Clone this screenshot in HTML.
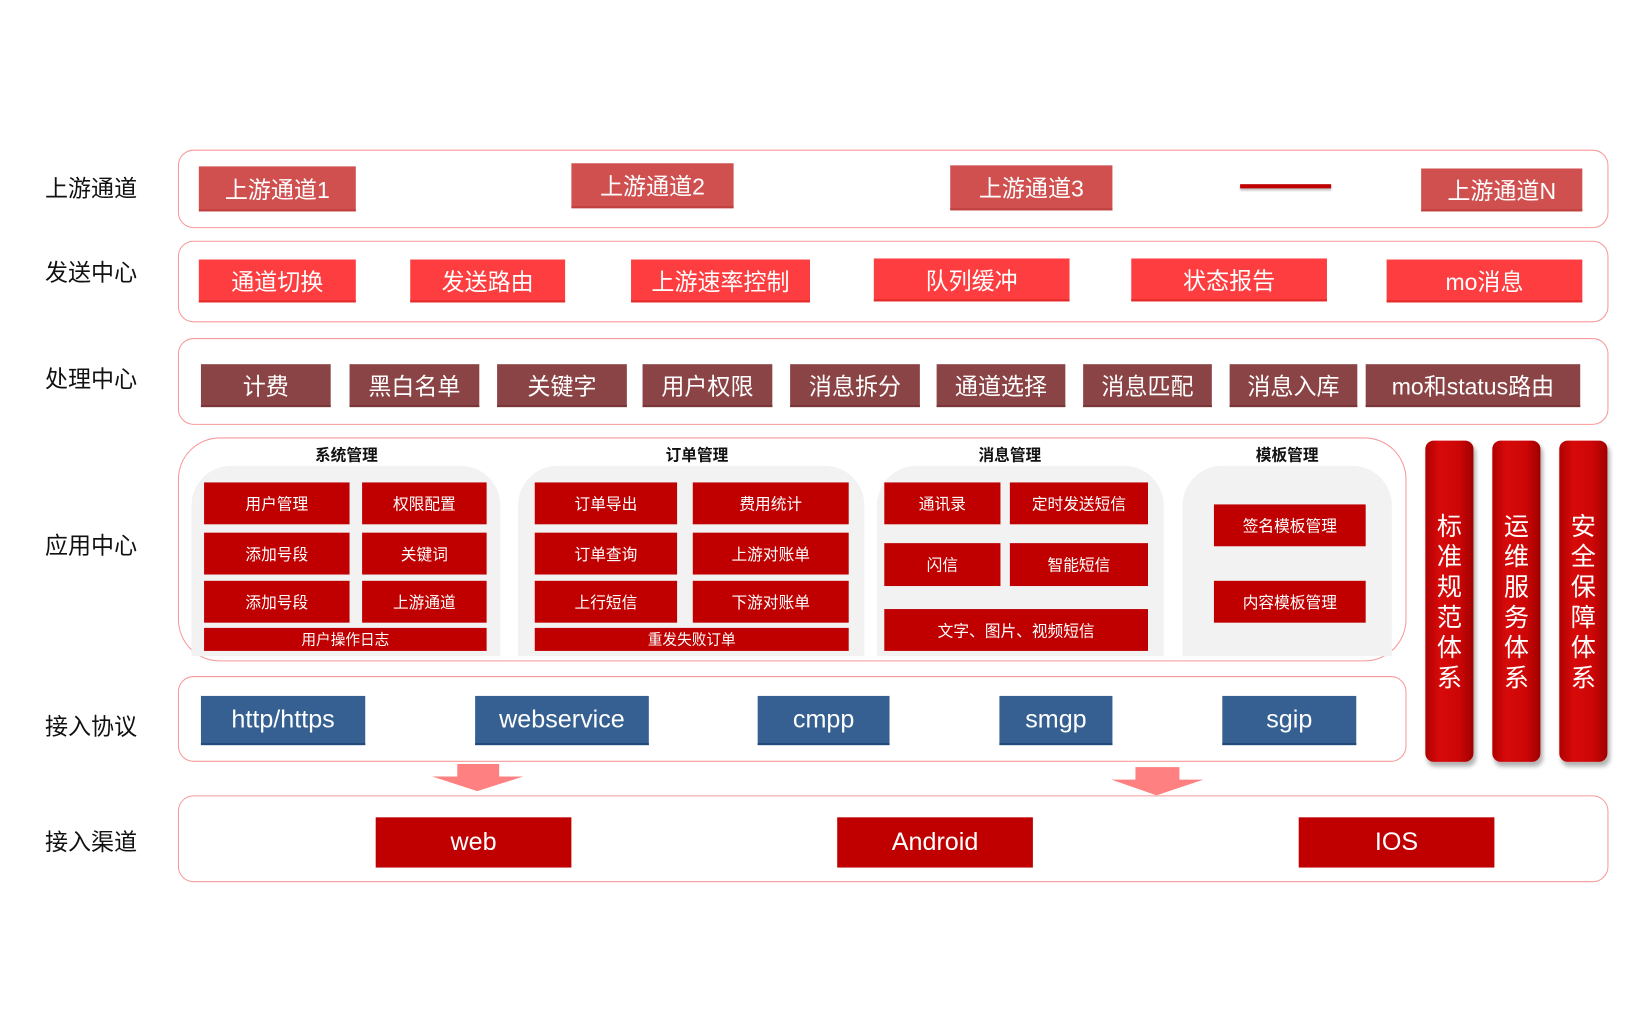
<!DOCTYPE html>
<html><head><meta charset="utf-8"><style>
html,body{margin:0;padding:0;background:#fff;width:1640px;height:1020px;overflow:hidden}
#w{position:absolute;left:0;top:0;width:1560px;height:970px;transform:scale(1.0465);transform-origin:0 0;font-family:"Liberation Sans","Noto Sans CJK SC",sans-serif}
.a{position:absolute;box-sizing:border-box}
.lb{position:absolute;left:43px;font-size:22px;color:#111;line-height:30px}
.fr{position:absolute;box-sizing:border-box;border:1.5px solid #f79a9a;border-radius:15px}
.b{position:absolute;box-sizing:border-box;display:flex;align-items:center;justify-content:center;color:#fff;white-space:nowrap}
.r1{background:#d05050;font-size:22px;border-bottom:2px solid #c04040}
.r2{background:#fd3d3f;font-size:22px;border-bottom:2px solid #e52a2a}
.r3{background:#8b4446;font-size:22px;border-bottom:2px solid #7a3537}
.s{background:#c00000;font-size:15px}
.p{background:#366092;font-size:24px;border-bottom:2px solid #244a7a}
.c{background:#c00000;font-size:24px}
.g{position:absolute;background:#f2f2f2;border-radius:38px 38px 0 0}
.t{position:absolute;font-size:15px;font-weight:bold;color:#111;transform:translateX(-50%)}
.pl{position:absolute;width:46px;top:421px;height:307px;border-radius:8px;background:linear-gradient(90deg,#b00000,#d80a0a 30%,#cc0606 70%,#a00000);box-shadow:2px 4px 4px rgba(0,0,0,.3);color:#fff;font-size:24px;line-height:29px;text-align:center;padding-top:68px;box-sizing:border-box}
</style></head><body><div id="w">
<div class="lb" style="top:166px">上游通道</div>
<div class="lb" style="top:246px">发送中心</div>
<div class="lb" style="top:348px">处理中心</div>
<div class="lb" style="top:507px">应用中心</div>
<div class="lb" style="top:680px">接入协议</div>
<div class="lb" style="top:790px">接入渠道</div>

<div class="fr" style="left:170px;top:143px;width:1367px;height:75px"></div>
<div class="b r1" style="left:190px;top:159px;width:150px;height:43px">上游通道1</div>
<div class="b r1" style="left:546px;top:156px;width:155px;height:43px">上游通道2</div>
<div class="b r1" style="left:908px;top:158px;width:155px;height:43px">上游通道3</div>
<div class="a" style="left:1185px;top:176px;width:87px;height:4px;background:#c00000;box-shadow:0 2px 2px rgba(0,0,0,.25)"></div>
<div class="b r1" style="left:1358px;top:161px;width:154px;height:41px">上游通道N</div>

<div class="fr" style="left:170px;top:230px;width:1367px;height:78px"></div>
<div class="b r2" style="left:190px;top:248px;width:150px;height:41px">通道切换</div>
<div class="b r2" style="left:392px;top:248px;width:148px;height:41px">发送路由</div>
<div class="b r2" style="left:603px;top:248px;width:171px;height:41px">上游速率控制</div>
<div class="b r2" style="left:835px;top:247px;width:187px;height:41px">队列缓冲</div>
<div class="b r2" style="left:1081px;top:247px;width:187px;height:41px">状态报告</div>
<div class="b r2" style="left:1325px;top:248px;width:187px;height:41px">mo消息</div>

<div class="fr" style="left:170px;top:323px;width:1367px;height:83px"></div>
<div class="b r3" style="left:192px;top:348px;width:124px;height:41px">计费</div>
<div class="b r3" style="left:334px;top:348px;width:124px;height:41px">黑白名单</div>
<div class="b r3" style="left:475px;top:348px;width:124px;height:41px">关键字</div>
<div class="b r3" style="left:614px;top:348px;width:124px;height:41px">用户权限</div>
<div class="b r3" style="left:755px;top:348px;width:124px;height:41px">消息拆分</div>
<div class="b r3" style="left:895px;top:348px;width:123px;height:41px">通道选择</div>
<div class="b r3" style="left:1035px;top:348px;width:123px;height:41px">消息匹配</div>
<div class="b r3" style="left:1175px;top:348px;width:122px;height:41px">消息入库</div>
<div class="b r3" style="left:1305px;top:348px;width:205px;height:41px">mo和status路由</div>

<div class="fr" style="left:170px;top:418px;width:1174px;height:214px;border-radius:40px"></div>
<div class="g" style="left:183px;top:445px;width:295px;height:182px"></div>
<div class="g" style="left:495px;top:445px;width:331px;height:182px"></div>
<div class="g" style="left:838px;top:445px;width:274px;height:182px"></div>
<div class="g" style="left:1130px;top:445px;width:200px;height:182px"></div>
<div class="t" style="left:331px;top:424px">系统管理</div>
<div class="t" style="left:666px;top:424px">订单管理</div>
<div class="t" style="left:965px;top:424px">消息管理</div>
<div class="t" style="left:1230px;top:424px">模板管理</div>

<div class="b s" style="left:195px;top:461px;width:139px;height:40px">用户管理</div>
<div class="b s" style="left:346px;top:461px;width:119px;height:40px">权限配置</div>
<div class="b s" style="left:195px;top:509px;width:139px;height:40px">添加号段</div>
<div class="b s" style="left:346px;top:509px;width:119px;height:40px">关键词</div>
<div class="b s" style="left:195px;top:555px;width:139px;height:40px">添加号段</div>
<div class="b s" style="left:346px;top:555px;width:119px;height:40px">上游通道</div>
<div class="b s" style="left:195px;top:600px;width:270px;height:22px;font-size:14px">用户操作日志</div>

<div class="b s" style="left:511px;top:461px;width:136px;height:40px">订单导出</div>
<div class="b s" style="left:662px;top:461px;width:149px;height:40px">费用统计</div>
<div class="b s" style="left:511px;top:509px;width:136px;height:40px">订单查询</div>
<div class="b s" style="left:662px;top:509px;width:149px;height:40px">上游对账单</div>
<div class="b s" style="left:511px;top:555px;width:136px;height:40px">上行短信</div>
<div class="b s" style="left:662px;top:555px;width:149px;height:40px">下游对账单</div>
<div class="b s" style="left:511px;top:600px;width:300px;height:22px;font-size:14px">重发失败订单</div>

<div class="b s" style="left:845px;top:461px;width:111px;height:40px">通讯录</div>
<div class="b s" style="left:965px;top:461px;width:132px;height:40px">定时发送短信</div>
<div class="b s" style="left:845px;top:519px;width:111px;height:41px">闪信</div>
<div class="b s" style="left:965px;top:519px;width:132px;height:41px">智能短信</div>
<div class="b s" style="left:845px;top:582px;width:252px;height:40px">文字、图片、视频短信</div>

<div class="b s" style="left:1160px;top:482px;width:145px;height:40px">签名模板管理</div>
<div class="b s" style="left:1160px;top:555px;width:145px;height:40px">内容模板管理</div>

<div class="pl" style="left:1362px">标<br>准<br>规<br>范<br>体<br>系</div>
<div class="pl" style="left:1426px">运<br>维<br>服<br>务<br>体<br>系</div>
<div class="pl" style="left:1490px">安<br>全<br>保<br>障<br>体<br>系</div>

<div class="fr" style="left:170px;top:646px;width:1174px;height:82px"></div>
<div class="b p" style="left:192px;top:665px;width:157px;height:47px">http/https</div>
<div class="b p" style="left:454px;top:665px;width:166px;height:47px">webservice</div>
<div class="b p" style="left:724px;top:665px;width:126px;height:47px">cmpp</div>
<div class="b p" style="left:955px;top:665px;width:108px;height:47px">smgp</div>
<div class="b p" style="left:1168px;top:665px;width:128px;height:47px">sgip</div>

<svg class="a" style="left:0;top:0" width="1560" height="970">
<polygon points="437,730 477,730 477,742 500,742 456,756 413,742 437,742" fill="#ff8080"/>
<polygon points="1085,733 1127,733 1127,745 1150,745 1105,760 1062,745 1085,745" fill="#ff8080"/>
</svg>

<div class="fr" style="left:170px;top:760px;width:1367px;height:83px"></div>
<div class="b c" style="left:359px;top:781px;width:187px;height:48px">web</div>
<div class="b c" style="left:800px;top:781px;width:187px;height:48px">Android</div>
<div class="b c" style="left:1241px;top:781px;width:187px;height:48px">IOS</div>
</div></body></html>
